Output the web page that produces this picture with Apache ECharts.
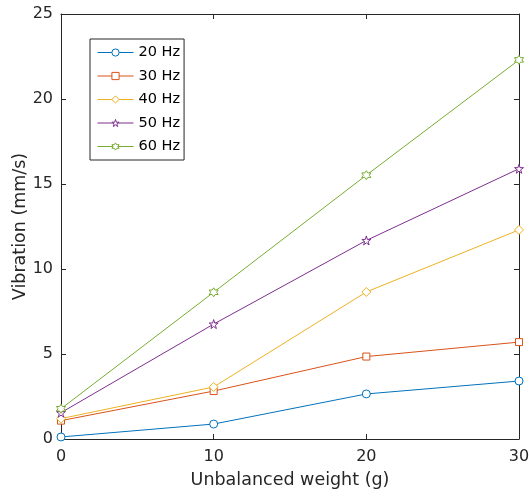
<!DOCTYPE html>
<html><head><meta charset="utf-8">
<script src="https://cdn.jsdelivr.net/npm/echarts@6/dist/echarts.min.js"></script>
<style>html,body{margin:0;padding:0;background:#fff}#c{width:529px;height:498px}</style>
</head><body><div id="c"></div>
<script>
const weights = [0, 10, 20, 30];
const seriesNames = ['20 Hz', '30 Hz', '40 Hz', '50 Hz', '60 Hz'];
const hz20 = [0.12, 0.88, 2.65, 3.41];
const hz30 = [1.08, 2.82, 4.85, 5.70];
const hz40 = [1.20, 3.06, 8.65, 12.30];
const hz50 = [1.55, 6.76, 11.68, 15.90];
const hz60 = [1.78, 8.63, 15.52, 22.30];
const colors = ['#0072BD', '#D95319', '#EDB120', '#7E2F8E', '#77AC30'];
const symbols = ['circle', 'rect', 'diamond',
  'path://M50,0 L61,35 L98,35 L68,57 L79,91 L50,70 L21,91 L32,57 L2,35 L39,35 Z',
  'path://M50,0 L64,25 L93,25 L79,50 L93,75 L64,75 L50,100 L36,75 L7,75 L21,50 L7,25 L36,25 Z'];
const sizes = [8, 7, 9, 9, 9];
const allData = [hz20, hz30, hz40, hz50, hz60];
const font = 'DejaVu Sans, Liberation Sans, Arial, sans-serif';
const axisCol = '#262626';

const chart = echarts.init(document.getElementById('c'));
const baseAxis = {
  axisLine: {show: true, onZero: false, lineStyle: {color: axisCol, width: 1}},
  axisTick: {show: true, inside: true, length: 5, lineStyle: {color: axisCol}},
  splitLine: {show: false},
  nameMoveOverlap: false
};
chart.setOption({
  animation: false,
  color: colors,
  grid: {left: 61, right: 10, top: 14, bottom: 59, containLabel: false, outerBoundsMode: 'none'},
  legend: {
    orient: 'vertical', left: 90, top: 39,
    backgroundColor: '#fff', borderColor: axisCol, borderWidth: 1,
    padding: [6, 4, 6, 7], itemGap: 8.5, itemWidth: 36, itemHeight: 9,
    itemStyle: {color: '#fff', borderWidth: 1},
    lineStyle: {width: 1},
    textStyle: {fontFamily: font, fontSize: 14.5, color: '#000'},
    data: seriesNames
  },
  xAxis: [
    Object.assign({}, baseAxis, {type: 'value', min: 0, max: 30, interval: 10, position: 'bottom',
      name: 'Unbalanced weight (g)', nameLocation: 'middle', nameGap: 32,
      nameTextStyle: {fontFamily: font, fontSize: 17.5, color: '#262626'},
      axisLabel: {fontFamily: font, fontSize: 16, color: '#262626', margin: 10}}),
    Object.assign({}, baseAxis, {type: 'value', min: 0, max: 30, interval: 10, position: 'top',
      axisLabel: {show: false}})
  ],
  yAxis: [
    Object.assign({}, baseAxis, {type: 'value', min: 0, max: 25, interval: 5, position: 'left',
      name: 'Vibration (mm/s)', nameLocation: 'middle', nameGap: 32,
      nameTextStyle: {fontFamily: font, fontSize: 17.5, color: '#262626'},
      axisLabel: {fontFamily: font, fontSize: 16, color: '#262626', margin: 8}}),
    Object.assign({}, baseAxis, {type: 'value', min: 0, max: 25, interval: 5, position: 'right',
      axisLabel: {show: false}})
  ],
  series: allData.map((d, i) => ({
    name: seriesNames[i], type: 'line',
    data: d.map((v, j) => [weights[j], v]),
    symbol: symbols[i], symbolSize: sizes[i], showAllSymbol: true,
    lineStyle: {color: colors[i], width: 1},
    itemStyle: {color: '#fff', borderColor: colors[i], borderWidth: 1},
    emphasis: {disabled: true}
  }))
});
</script></body></html>
